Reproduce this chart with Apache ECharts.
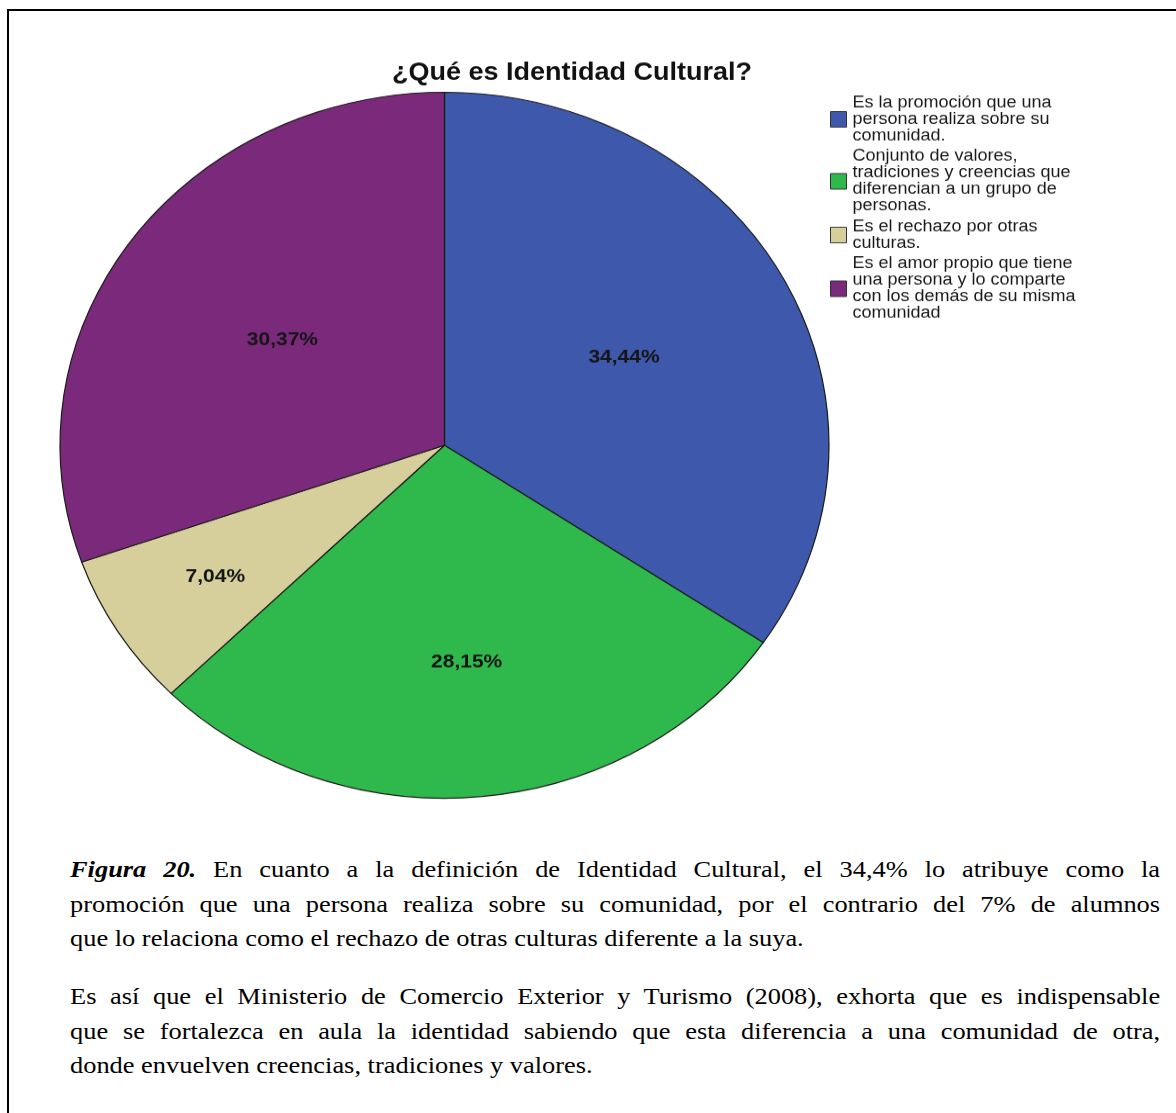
<!DOCTYPE html>
<html><head><meta charset="utf-8">
<script src="https://cdn.jsdelivr.net/npm/echarts@6/dist/echarts.min.js"></script>
<style>
html,body{margin:0;padding:0;background:#fff;width:1176px;height:1113px;overflow:hidden;position:relative}
#frame{position:absolute;left:7px;top:9px;width:1200px;height:1200px;border-top:2px solid #000;border-left:2px solid #000}
#chart{position:absolute;left:0;top:0;width:1176px;height:900px;transform:scaleY(0.918);transform-origin:0 0}
#text{position:absolute;left:70px;top:852px;width:991px;transform:scaleX(1.1);transform-origin:0 0;font-family:"Liberation Serif","Times New Roman",serif;font-size:24px;line-height:34.5px;color:#000}
.j{text-align:justify;text-align-last:justify;white-space:nowrap}
.p{margin:0 0 23.5px 0}
</style>
</head><body>
<div id="frame"></div>
<div id="chart"></div>
<div id="text">
<div class="p"><div class="j"><b><i>Figura 20.</i></b> En cuanto a la definición de Identidad Cultural, el 34,4% lo atribuye como la</div><div class="j">promoción que una persona realiza sobre su comunidad, por el contrario del 7% de alumnos</div><div>que lo relaciona como el rechazo de otras culturas diferente a la suya.</div></div>
<div class="p"><div class="j">Es así que el Ministerio de Comercio Exterior y Turismo (2008), exhorta que es indispensable</div><div class="j">que se fortalezca en aula la identidad sabiendo que esta diferencia a una comunidad de otra,</div><div>donde envuelven creencias, tradiciones y valores.</div></div>
</div>
<script>
const chartTitle = "¿Qué es Identidad Cultural?";
const categories = [
  "Es la promoción que una\npersona realiza sobre su\ncomunidad.",
  "Conjunto de valores,\ntradiciones y creencias que\ndiferencian a un grupo de\npersonas.",
  "Es el rechazo por otras\nculturas.",
  "Es el amor propio que tiene\nuna persona y lo comparte\ncon los demás de su misma\ncomunidad"
];
const percentages = [34.44, 28.15, 7.04, 30.37];
const sliceColors = ['#3e58ac', '#2fb84b', '#d6cf9b', '#7b2a7b'];
const labelRadiusFactor = [0.521, 0.610, 0.695, 0.509];

const R = 384.5, CX = 444.5, CY = 485;
const total = percentages.reduce((a, b) => a + b, 0);
let acc = 0;
const data = percentages.map((v, i) => {
  const mid = (acc + v / 2) / total * 2 * Math.PI;
  acc += v;
  const extra = (labelRadiusFactor[i] - 0.5) * R;
  return {
    value: v,
    name: categories[i],
    itemStyle: { color: sliceColors[i] },
    label: { offset: [extra * Math.sin(mid), -extra * Math.cos(mid)] }
  };
});

const chart = echarts.init(document.getElementById('chart'), null, { renderer: 'canvas' });
chart.setOption({
  animation: false,
  title: {
    text: chartTitle,
    left: 572, top: 66, textAlign: 'center', padding: 0,
    textStyle: { fontSize: 27, fontWeight: 'bold', fontFamily: 'Liberation Sans, Arial, sans-serif', color: '#111' }
  },
  legend: {
    orient: 'vertical', left: 830, top: 103, padding: 0, itemGap: 4.5,
    itemWidth: 16, itemHeight: 17, icon: 'rect',
    selectedMode: false,
    itemStyle: { borderColor: '#333', borderWidth: 1 },
    textStyle: { fontSize: 18, lineHeight: 18, fontFamily: 'Liberation Sans, Arial, sans-serif', color: '#1a1a1a', padding: [0, 0, 0, 1] },
    data: categories
  },
  series: [{
    type: 'pie',
    center: [CX, CY],
    radius: R,
    startAngle: 90,
    clockwise: true,
    avoidLabelOverlap: false,
    emphasis: { disabled: true },
    itemStyle: { borderColor: '#1a1a1a', borderWidth: 1.2 },
    label: {
      show: true, position: 'inside',
      fontSize: 21, fontWeight: 'bold', fontFamily: 'Liberation Sans, Arial, sans-serif', color: '#151515',
      formatter: p => p.value.toFixed(2).replace('.', ',') + '%'
    },
    labelLine: { show: false },
    data: data
  }]
});
</script>
</body></html>
